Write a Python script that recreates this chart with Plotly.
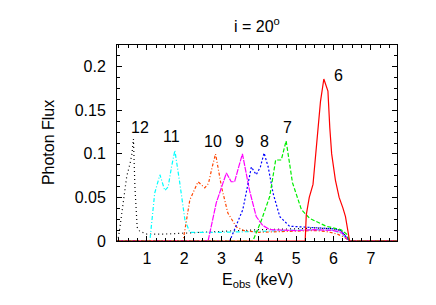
import plotly.graph_objects as go

# Energy (keV) / photon flux for each line (label = curve id)
e12 = [0.20, 0.22, 0.27, 0.32, 0.37, 0.46, 0.55, 0.60, 0.64, 0.68, 0.74, 0.81, 1.0, 1.5, 2.0, 2.5, 3.0, 3.5, 4.0, 5.0, 5.5, 6.0, 6.2, 6.35, 6.43, 7.7]
f12 = [0.0, 0.0, 0.013, 0.03, 0.047, 0.074, 0.089, 0.10, 0.117, 0.062, 0.016, 0.011, 0.008, 0.008, 0.009, 0.010, 0.011, 0.012, 0.013, 0.014, 0.015, 0.014, 0.012, 0.005, 0.0, 0.0]

e11 = [0.20, 1.08, 1.21, 1.35, 1.48, 1.57, 1.66, 1.75, 1.88, 2.02, 2.15, 3.0, 4.0, 5.0, 5.5, 6.0, 6.2, 6.43, 7.7]
f11 = [0.0, 0.0, 0.055, 0.076, 0.058, 0.062, 0.085, 0.104, 0.067, 0.024, 0.010, 0.010, 0.011, 0.012, 0.013, 0.012, 0.009, 0.0, 0.0]

e10 = [0.20, 1.97, 2.15, 2.37, 2.55, 2.65, 2.75, 2.84, 3.0, 3.17, 3.4, 3.6, 4.0, 5.0, 5.5, 5.8, 6.1, 6.3, 6.43, 7.7]
f10 = [0.0, 0.0, 0.047, 0.068, 0.061, 0.066, 0.085, 0.100, 0.062, 0.032, 0.016, 0.012, 0.010, 0.011, 0.012, 0.011, 0.008, 0.004, 0.0, 0.0]

e9 = [0.20, 2.64, 2.86, 3.13, 3.26, 3.35, 3.46, 3.56, 3.75, 3.93, 4.1, 4.3, 5.0, 5.5, 6.0, 6.2, 6.43, 7.7]
f9 = [0.0, 0.0, 0.044, 0.078, 0.068, 0.068, 0.085, 0.100, 0.058, 0.028, 0.018, 0.013, 0.012, 0.013, 0.012, 0.010, 0.0, 0.0]

e8 = [0.20, 3.22, 3.57, 3.80, 3.93, 4.04, 4.14, 4.25, 4.38, 4.56, 4.82, 5.2, 5.5, 6.0, 6.2, 6.43, 7.7]
f8 = [0.0, 0.0, 0.036, 0.085, 0.076, 0.085, 0.101, 0.085, 0.055, 0.028, 0.017, 0.016, 0.016, 0.014, 0.012, 0.0, 0.0]

e7 = [0.20, 3.84, 4.07, 4.29, 4.45, 4.60, 4.73, 4.90, 5.14, 5.36, 5.8, 6.2, 6.35, 6.43, 7.7]
f7 = [0.0, 0.0, 0.024, 0.051, 0.093, 0.093, 0.115, 0.067, 0.036, 0.026, 0.017, 0.013, 0.008, 0.0, 0.0]

e6 = [0.20, 5.24, 5.27, 5.35, 5.45, 5.55, 5.65, 5.74, 5.85, 5.90, 5.95, 6.05, 6.15, 6.25, 6.32, 6.43, 7.7]
f6 = [0.0, 0.0, 0.030, 0.050, 0.065, 0.110, 0.160, 0.186, 0.172, 0.130, 0.100, 0.070, 0.050, 0.038, 0.028, 0.0, 0.0]

labels = ["12", "11", "10", "9", "8", "7", "6"]
label_x = [0.81, 1.66, 2.77, 3.47, 4.15, 4.76, 6.13]
label_y = [0.130, 0.120, 0.114, 0.114, 0.114, 0.130, 0.190]

x_ticks = [1, 2, 3, 4, 5, 6, 7]
y_ticks = [0, 0.05, 0.1, 0.15, 0.2]
y_tick_text = ["0", "0.05", "0.1", "0.15", "0.2"]

series = [
    (e12, f12, "black", "1px,3px"),
    (e11, f11, "#00ffff", "4px,2px,1px,2px"),
    (e10, f10, "#ff4500", "3px,2px,1px,2px"),
    (e9, f9, "#ff00ff", "6px,1px"),
    (e8, f8, "#0000ff", "2px,2px"),
    (e7, f7, "#00ee00", "4px,2px"),
    (e6, f6, "#ff0000", "solid"),
]

font = "Liberation Sans"
FS = 16

fig = go.Figure()
for (x, y, c, d) in series:
    fig.add_trace(go.Scatter(x=x, y=y, mode="lines",
                             line=dict(color=c, width=1.2, dash=d),
                             showlegend=False, hoverinfo="skip"))

for t, x, y in zip(labels, label_x, label_y):
    fig.add_annotation(x=x, y=y, text=t, showarrow=False,
                       font=dict(size=FS, color="black", family=font))

# title and axis titles
fig.add_annotation(xref="paper", yref="paper", x=0.5, y=1.102, text="i = 20<sup>o</sup>",
                   showarrow=False, xanchor="center", yanchor="middle",
                   font=dict(size=FS, color="black", family=font))
fig.add_annotation(xref="paper", yref="paper", x=0.5, y=-0.204, text="E<sub>obs</sub> (keV)",
                   showarrow=False, xanchor="center", yanchor="middle",
                   font=dict(size=FS, color="black", family=font))
fig.add_annotation(xref="paper", yref="paper", x=-0.246, y=0.5, text="Photon Flux",
                   showarrow=False, xanchor="center", yanchor="middle", textangle=-90,
                   font=dict(size=FS, color="black", family=font))

axis_common = dict(showline=True, linecolor="black", linewidth=1, mirror="allticks",
                   ticks="inside", ticklen=5, tickcolor="black", showgrid=False,
                   zeroline=False, tickfont=dict(size=FS, color="black", family=font))

# page body has an 8px default margin, so figure is 8px smaller
fig.update_layout(
    width=428, height=297,
    margin=dict(l=109, r=39, t=37, b=64),
    paper_bgcolor="white", plot_bgcolor="white",
    font=dict(family=font, size=FS, color="black"),
    xaxis=dict(range=[0.2, 7.7], tickvals=x_ticks, ticklabelstandoff=3,
               minor=dict(dtick=0.25, tick0=0, ticks="inside", ticklen=3, tickcolor="black"),
               **axis_common),
    yaxis=dict(range=[0, 0.225], tickvals=y_ticks, ticktext=y_tick_text, ticklabelstandoff=7,
               minor=dict(dtick=0.0125, tick0=0, ticks="inside", ticklen=3, tickcolor="black"),
               **axis_common),
)

fig.write_html("out.html")
